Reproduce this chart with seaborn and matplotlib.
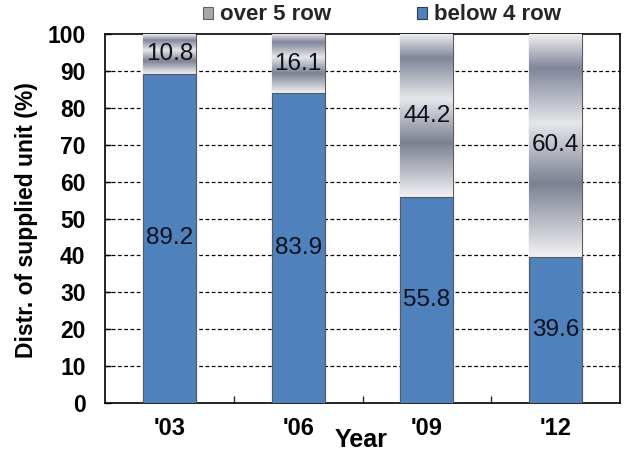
import numpy as np
import pandas as pd
import matplotlib
matplotlib.use("Agg")
import matplotlib.pyplot as plt
from matplotlib.colors import LinearSegmentedColormap
from matplotlib.patches import Patch
import seaborn as sns

years = ["'03", "'06", "'09", "'12"]
below_4_row = [89.2, 83.9, 55.8, 39.6]
over_5_row = [10.8, 16.1, 44.2, 60.4]
y_ticks = [0, 10, 20, 30, 40, 50, 60, 70, 80, 90, 100]

sns.set_theme(style="white")
plt.rcParams["font.family"] = ["Liberation Sans", "DejaVu Sans"]

df = pd.DataFrame({"year": years, "below": below_4_row, "over": over_5_row})
df["total"] = df["below"] + df["over"]

fig = plt.figure(figsize=(6.39, 4.54), dpi=100)
ax = fig.add_axes([105 / 639, 51 / 454, 515 / 639, 369 / 454])

blue = "#4F81BD"
edge = "#5a5a5a"

# full-height bars (upper segment shows through above the lower one)
sns.barplot(data=df, x="year", y="total", color="#c8cad0", width=0.41,
            saturation=1, edgecolor=edge, linewidth=0.8, ax=ax, zorder=2)
top_patches = list(ax.patches)
sns.barplot(data=df, x="year", y="below", color=blue, width=0.41,
            saturation=1, edgecolor=edge, linewidth=0.8, ax=ax, zorder=4)

# metallic banded fill for the upper segments
metal = LinearSegmentedColormap.from_list(
    "metal",
    [(0.0, "#f2f2f4"), (0.33, "#7c8192"), (0.6, "#e6e7ea"),
     (0.85, "#80859a"), (1.0, "#f0f0f2")])
grad = np.linspace(0, 1, 256).reshape(-1, 1)
for p, lo, hi in zip(top_patches, df["below"], df["total"]):
    x0 = p.get_x()
    w = p.get_width()
    im = ax.imshow(grad, cmap=metal, aspect="auto",
                   extent=(x0, x0 + w, hi, lo), zorder=3,
                   interpolation="bicubic")
    im.set_clip_path(p)

# value labels centred in each segment
for i, (b, o) in enumerate(zip(below_4_row, over_5_row)):
    ax.text(i, b / 2, f"{b:.1f}", ha="center", va="center",
            fontsize=17.5, color="#10101c", zorder=6)
    ax.text(i, b + o / 2, f"{o:.1f}", ha="center", va="center",
            fontsize=17.5, color="#10101c", zorder=6)

ax.set_xlim(-0.5, 3.5)
ax.set_ylim(0, 100)
ax.set_yticks(y_ticks)
ax.set_yticklabels([str(t) for t in y_ticks], fontsize=16.5, fontweight="bold")
ax.set_xticks(range(len(years)))
ax.set_xticklabels(years, fontsize=17, fontweight="bold")
ax.set_xticks([0.5, 1.5, 2.5], minor=True)

ax.tick_params(axis="y", direction="in", length=4, width=1, pad=14,
               left=True, colors="black")
ax.tick_params(axis="x", which="major", length=0, pad=10, colors="black")
ax.tick_params(axis="x", which="minor", direction="in", length=5, width=1,
               bottom=True)

for y in y_ticks[1:-1]:
    ax.axhline(y, color="black", linestyle=(0, (3, 2)), linewidth=0.9,
               zorder=1)

for s in ax.spines.values():
    s.set_visible(True)
    s.set_color("black")
    s.set_linewidth(1.2)

ax.set_xlabel("Year", fontsize=18, fontweight="bold", color="black")
ax.xaxis.set_label_coords(0.497, -0.068)
ax.xaxis.label.set_va("top")
ax.set_ylabel("Distr. of supplied unit (%)", fontsize=16.5, fontweight="bold",
              color="black")
ax.yaxis.set_label_coords(-0.13, 0.495)
ax.yaxis.label.set_va("bottom")

handles = [Patch(facecolor="#a4a7b0", edgecolor="#606060", linewidth=0.8),
           Patch(facecolor=blue, edgecolor="#303a50", linewidth=0.8)]
fig.legend(handles, ["over 5 row", "below 4 row"], loc="center",
           bbox_to_anchor=(382 / 639, 1 - 15 / 454), ncol=2, frameon=False,
           prop={"size": 16, "weight": "bold"}, handlelength=0.45,
           handleheight=0.45, handletextpad=0.3, columnspacing=3.9)

fig.savefig("out.png", dpi=100)
